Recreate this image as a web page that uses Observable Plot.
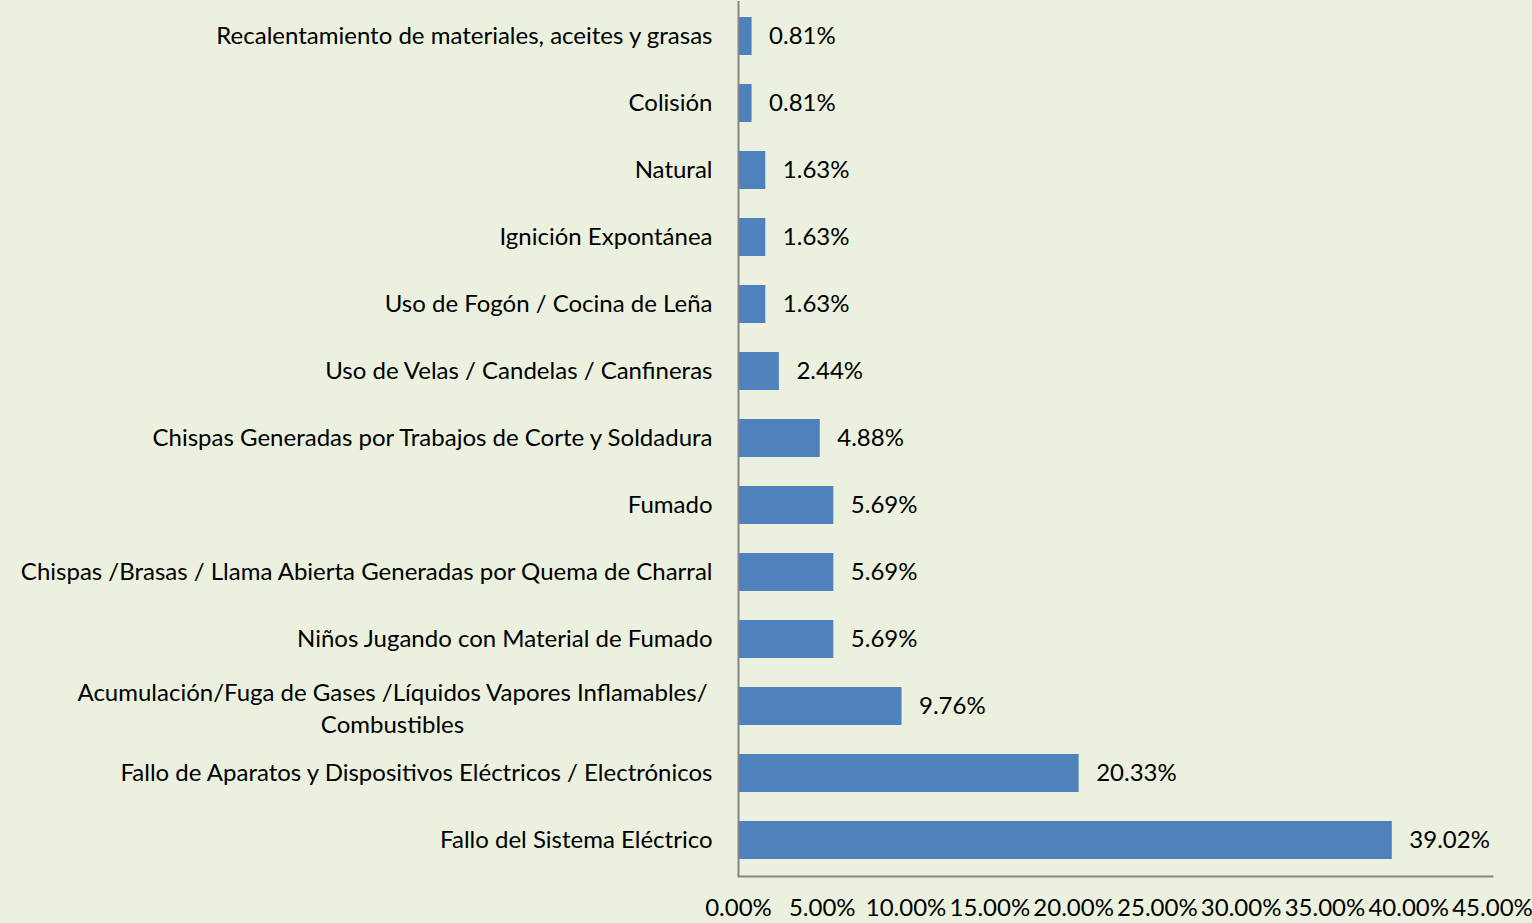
<!DOCTYPE html>
<html>
<head>
<meta charset="utf-8">
<script src="https://cdn.jsdelivr.net/npm/d3@7"></script>
<script src="https://cdn.jsdelivr.net/npm/@observablehq/plot@0.6"></script>
<style>
  html, body { margin: 0; padding: 0; background: #EBF1DE; }
  #chart svg { display: block; }
</style>
</head>
<body>
<div id="chart"></div>
<script>
const categories = [
  "Recalentamiento de materiales, aceites y grasas",
  "Colisión",
  "Natural",
  "Ignición Expontánea",
  "Uso de Fogón / Cocina de Leña",
  "Uso de Velas / Candelas / Canfineras",
  "Chispas Generadas por Trabajos de Corte y Soldadura",
  "Fumado",
  "Chispas /Brasas / Llama Abierta Generadas por Quema de Charral",
  "Niños Jugando con Material de Fumado",
  "Acumulación/Fuga de Gases /Líquidos Vapores Inflamables/ Combustibles",
  "Fallo de Aparatos y Dispositivos Eléctricos / Electrónicos",
  "Fallo del Sistema Eléctrico"
];
const values = [0.81, 0.81, 1.63, 1.63, 1.63, 2.44, 4.88, 5.69, 5.69, 5.69, 9.76, 20.33, 39.02];
const xTicks = [0, 5, 10, 15, 20, 25, 30, 35, 40, 45];
const wrappedLabel = {
  "Acumulación/Fuga de Gases /Líquidos Vapores Inflamables/ Combustibles":
    "Acumulación/Fuga de Gases /Líquidos Vapores Inflamables/\nCombustibles"
};

const data = categories.map((c, i) => ({category: c, value: values[i]}));
const FONT = "Lato, 'Open Sans', sans-serif";
const FS = 24;

const chart = Plot.plot({
  width: 1532,
  height: 923,
  marginLeft: 738,
  marginRight: 40,
  marginTop: 1,
  marginBottom: 47,
  style: {background: "#EBF1DE", fontFamily: FONT, fontSize: FS + "px", color: "#000"},
  x: {domain: [0, 45], ticks: xTicks, tickFormat: d => d.toFixed(2) + "%", label: null},
  y: {domain: categories, paddingInner: 0.43, paddingOuter: 0.215, label: null},
  marks: [
    Plot.barX(data, {x: "value", y: "category", fill: "#4F81BD"}),
    Plot.text(data, {x: "value", y: "category", text: d => d.value.toFixed(2) + "%",
      textAnchor: "start", dx: 17, fill: "#000", fontSize: FS}),
    Plot.ruleX([0], {stroke: "#868686", strokeWidth: 2}),
    Plot.axisX({ticks: xTicks, tickFormat: d => d.toFixed(2) + "%", tickSize: 0, tickPadding: 22,
      fontSize: FS, fill: "#000", label: null}),
    Plot.axisY({tickSize: 0, tickPadding: 26, fontSize: FS, fill: "#000", label: null,
      tickFormat: d => wrappedLabel[d] ? "" : d}),
    Plot.text(data.filter(d => wrappedLabel[d.category]), {
      x: 0, y: "category", text: d => wrappedLabel[d.category],
      textAnchor: "middle", dx: -346, fontSize: FS, fill: "#000", lineHeight: 1.33
    }),
    Plot.frame({anchor: "bottom", stroke: "#868686", strokeWidth: 2})
  ]
});
document.getElementById("chart").appendChild(chart);
</script>
</body>
</html>
